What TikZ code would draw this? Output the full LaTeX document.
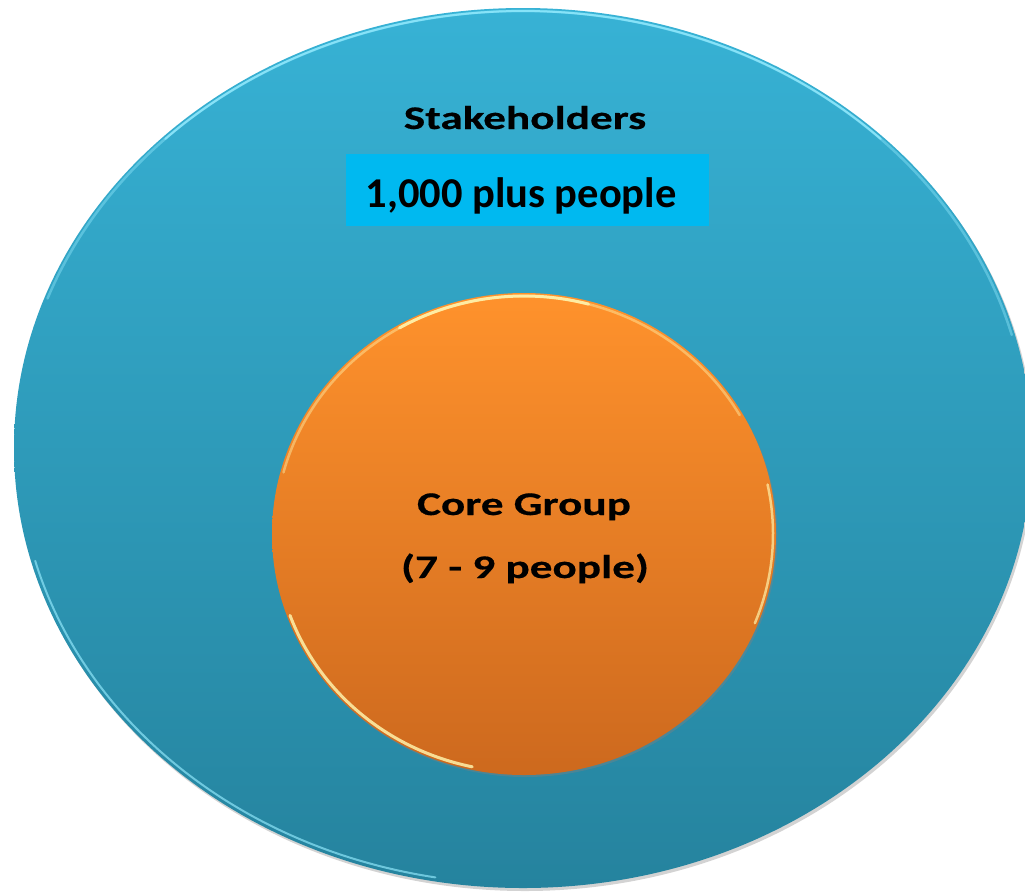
\documentclass[tikz,border=0pt]{standalone}
\usepackage{fontspec}
\setmainfont{Carlito}
\newfontfamily\widefont[FakeStretch=1.37,BoldFeatures={FakeBold=0.5}]{Carlito}
\usetikzlibrary{shapes.geometric,shadows}
\definecolor{outerTop}{RGB}{55,178,213}
\definecolor{outerBot}{RGB}{37,131,158}
\definecolor{coreTop}{RGB}{255,146,44}
\definecolor{coreBot}{RGB}{205,105,30}
\definecolor{boxcyan}{RGB}{0,185,240}
\definecolor{rimcyan}{RGB}{150,236,255}
\definecolor{rimyellow}{RGB}{255,242,170}
\tikzset{
  bubble/.style={ellipse, inner sep=0pt, draw=none},
  widelabel/.style={anchor=base, inner sep=0pt, text=black, font=\widefont\bfseries\fontsize{33}{40}\selectfont},
  plainlabel/.style={anchor=base, inner sep=0pt, text=black, font=\bfseries\fontsize{42.5}{50}\selectfont},
  rim/.style={line width=#1, line cap=round},
}
\begin{document}
\begin{tikzpicture}[x=1pt,y=-1pt]
\useasboundingbox (0,0) rectangle (1025,892);
\clip (0,0) rectangle (1025,892);
% outer ellipse
\node[bubble, minimum width=1018pt, minimum height=880pt, top color=outerTop, bottom color=outerBot,
  drop shadow={opacity=0.35, shadow xshift=2pt, shadow yshift=-3pt}] (stake) at (523,448) {};
\draw[rimcyan, rim=2.5pt, opacity=0.4] (stake.center) ++(-160:506 and 437) arc[start angle=-160, end angle=-15, x radius=506, y radius=437];
\draw[rimcyan, rim=2pt, opacity=0.75] (stake.center) ++(-135:506 and 437) arc[start angle=-135, end angle=-45, x radius=506, y radius=437];
\draw[rimcyan, rim=2pt, opacity=0.65] (stake.center) ++(165:505 and 436) arc[start angle=165, end angle=100, x radius=505, y radius=436];
% box
\node[rectangle, fill=boxcyan, minimum width=363pt, minimum height=72pt, inner sep=0pt] (box) at (527.5,190) {};
% core circle
\node[bubble, minimum width=504pt, minimum height=482pt, top color=coreTop, bottom color=coreBot,
  drop shadow={opacity=0.4, shadow xshift=1.5pt, shadow yshift=-2pt}] (core) at (524,534) {};
\draw[rimyellow, rim=2.5pt, opacity=0.45] (core.center) ++(-165:249 and 238) arc[start angle=-165, end angle=-30, x radius=249, y radius=238];
\draw[rimyellow, rim=3pt, opacity=0.9] (core.center) ++(-120:249 and 238) arc[start angle=-120, end angle=-75, x radius=249, y radius=238];
\draw[rimyellow, rim=2.5pt, opacity=0.7] (core.center) ++(-12:249 and 238) arc[start angle=-12, end angle=22, x radius=249, y radius=238];
\draw[rimyellow, rim=3pt, opacity=0.85] (core.center) ++(160:249 and 238) arc[start angle=160, end angle=102, x radius=249, y radius=238];
% texts
\node[widelabel] (title) at (525,129) {Stakeholders};
\node[plainlabel] (count) at (521,207) {1,000 plus people};
\node[widelabel] (coretitle) at (524,515) {Core Group};
\node[widelabel] (coresize) at (525,578) {(7 - 9 people)};
\end{tikzpicture}
\end{document}
